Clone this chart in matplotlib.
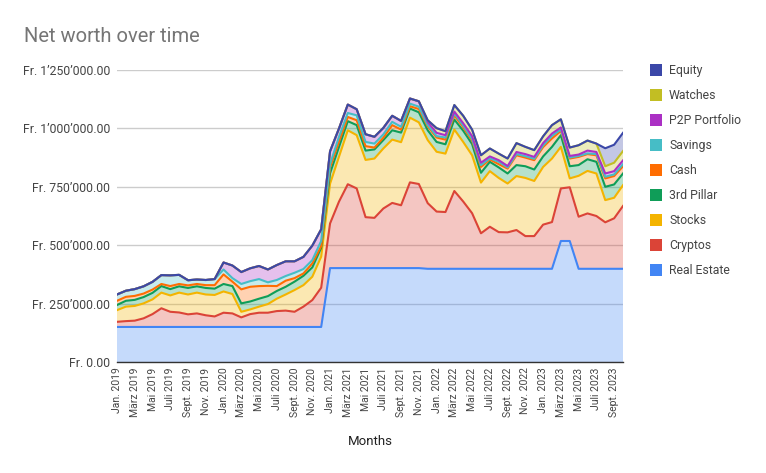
import numpy as np
import matplotlib
matplotlib.use("Agg")
import matplotlib.pyplot as plt
from matplotlib.patches import Rectangle

plt.rcParams['font.family'] = ['Roboto', 'DejaVu Sans']

# ---- data (values in thousand CHF), monthly Jan 2019 .. Okt 2023 ----
real_estate = [150, 150, 150, 150, 150, 150, 150, 150, 150, 150, 150, 150,
               150, 150, 150, 150, 150, 150, 150, 150, 150, 150, 150, 150,
               402, 402, 402, 402, 402, 402, 402, 402, 402, 402, 402, 399,
               399, 399, 399, 399, 399, 399, 399, 399, 399, 399, 399, 399,
               399, 399, 518, 518, 399, 399, 399, 399, 399, 399]
cryptos = [22, 25, 27, 37, 55, 80, 65, 62, 54, 58, 50, 45,
           61, 58, 41, 55, 61, 61, 68, 70, 65, 87, 115, 168,
           191, 284, 359, 341, 218, 215, 255, 279, 269, 367, 360, 281,
           245, 243, 333, 288, 238, 152, 180, 157, 156, 166, 140, 140,
           189, 200, 225, 230, 223, 237, 226, 199, 216, 269]
stocks = [50, 62, 63, 64, 63, 67, 70, 85, 85, 89, 89, 92,
          91, 83, 24, 20, 26, 37, 53, 69, 93, 92, 100, 133,
          170, 192, 231, 228, 245, 254, 257, 271, 270, 277, 264, 270,
          256, 250, 263, 255, 248, 217, 238, 232, 209, 231, 249, 236,
          247, 272, 178, 38, 175, 182, 182, 95, 88, 89]
third_pillar = [22, 25, 26, 27, 28, 28, 27, 27, 28, 27, 28, 27,
                32, 34, 36, 34, 34, 34, 33, 33, 36, 40, 40, 38,
                45, 42, 39, 43, 40, 39, 36, 40, 41, 39, 43, 42,
                42, 40, 43, 48, 48, 42, 40, 45, 43, 47, 50, 49,
                45, 50, 50, 52, 46, 50, 50, 57, 57, 50]
cash = [18, 17, 17, 15, 14, 9, 13, 10, 11, 10, 12, 15,
        41, 19, 60, 63, 54, 44, 21, 26, 15, 10, 17, 7,
        25, 22, 18, 21, 19, 8, 10, 22, 13, 10, 14, 17,
        19, 20, 18, 15, 15, 25, 10, 14, 21, 42, 37, 40,
        40, 36, 18, 33, 35, 22, 28, 36, 36, 31]
savings = [27, 26, 29, 31, 33, 38, 46, 39, 22, 19, 22, 26,
           21, 15, 23, 24, 30, 15, 26, 20, 23, 19, 14, 22,
           14, 21, 17, 21, 18, 17, 14, 14, 12, 11, 10, 6,
           6, 9, 8, 7, 7, 8, 5, 10, 5, 5, 6, 6,
           7, 11, 6, 4, 4, 3, 5, 7, 7, 9]
p2p_portfolio = [0, 0, 0, 0, 0, 0, 0, 0, 0, 0, 0, 0,
                 30, 54, 51, 55, 56, 55, 64, 63, 49, 52, 62, 50,
                 55, 36, 36, 26, 33, 29, 28, 26, 25, 22, 23, 12,
                 14, 10, 8, 10, 12, 10, 8, 7, 6, 9, 9, 8,
                 10, 10, 9, 7, 6, 12, 9, 14, 14, 16]
watches = [0, 0, 0, 0, 0, 0, 0, 0, 0, 0, 0, 0,
           0, 0, 0, 0, 0, 0, 0, 0, 0, 0, 0, 0,
           0, 0, 0, 0, 0, 0, 0, 0, 0, 0, 0, 8,
           20, 17, 28, 32, 28, 32, 34, 28, 32, 38, 31, 29,
           29, 36, 35, 36, 40, 43, 36, 31, 36, 40]
equity = [0, 0, 0, 0, 0, 0, 0, 0, 0, 0, 0, 0,
          0, 0, 0, 0, 0, 0, 0, 0, 0, 0, 0, 0,
          0, 0, 0, 0, 0, 0, 0, 0, 0, 0, 0, 0,
          0, 0, 0, 0, 0, 0, 0, 0, 0, 0, 0, 0,
          0, 0, 0, 0, 0, 0, 0, 77, 77, 78]

series_names = ["Real Estate", "Cryptos", "Stocks", "3rd Pillar", "Cash",
                "Savings", "P2P Portfolio", "Watches", "Equity"]
series_colors = ["#4285F4", "#DB4437", "#F4B400", "#0F9D58", "#FF6D01",
                 "#46BDC6", "#AB30C4", "#C2BE23", "#3B47A8"]

tick_labels = ["Jan. 2019", "März 2019", "Mai 2019", "Juli 2019", "Sept. 2019", "Nov. 2019",
               "Jan. 2020", "März 2020", "Mai 2020", "Juli 2020", "Sept. 2020", "Nov. 2020",
               "Jan. 2021", "März 2021", "Mai 2021", "Juli 2021", "Sept. 2021", "Nov. 2021",
               "Jan. 2022", "März 2022", "Mai 2022", "Juli 2022", "Sept. 2022", "Nov. 2022",
               "Jan. 2023", "März 2023", "Mai 2023", "Juli 2023", "Sept. 2023"]
y_ticks = [0, 250000, 500000, 750000, 1000000, 1250000]
y_tick_labels = ["Fr. 0.00", "Fr. 250\u2019000.00", "Fr. 500\u2019000.00",
                 "Fr. 750\u2019000.00", "Fr. 1\u2019000\u2019000.00", "Fr. 1\u2019250\u2019000.00"]

# ---- figure ----
W, H = 766, 473
fig = plt.figure(figsize=(W / 100, H / 100), dpi=100)
L, R, T, B = 117, 623, 70, 362
ax = fig.add_axes([L / W, 1 - B / H, (R - L) / W, (B - T) / H])

data = np.array([real_estate, cryptos, stocks, third_pillar, cash, savings,
                 p2p_portfolio, watches, equity], dtype=float) * 1000
x = np.arange(data.shape[1])

ax.stackplot(x, *data, colors=series_colors, alpha=0.3, linewidth=0, zorder=2)
cum = np.cumsum(data, axis=0)
for k in range(len(series_names)):
    ax.plot(x, cum[k], color=series_colors[k], lw=1.5, zorder=3,
            solid_joinstyle='round')

ax.set_xlim(0, len(x) - 1)
ax.set_ylim(0, 1250000)
ax.set_yticks(y_ticks)
ax.set_yticklabels(y_tick_labels, fontsize=8.8, color="#444444")
ax.set_xticks(x[::2])
ax.set_xticklabels(tick_labels, rotation=90, fontsize=7.5, color="#444444")
ax.tick_params(axis='both', length=0)
ax.tick_params(axis='y', pad=5)
ax.tick_params(axis='x', pad=4)
ax.grid(axis='y', color="#cccccc", lw=1, zorder=0)
ax.set_axisbelow(True)
for s in ['top', 'right', 'left']:
    ax.spines[s].set_visible(False)
ax.spines['bottom'].set_color('#333333')
ax.spines['bottom'].set_linewidth(1)
ax.spines['bottom'].set_zorder(4)

fig.text(24 / W, 1 - 37 / H, "Net worth over time", fontsize=14.5, color="#757575",
         ha='left', va='center')
fig.text(370 / W, 1 - 441 / H, "Months", fontsize=9.5, color="#222222",
         ha='center', va='center')

# legend (top: Equity ... bottom: Real Estate)
y0, dy = 70.5, 24.95
for j, k in enumerate(range(len(series_names) - 1, -1, -1)):
    yc = y0 + j * dy
    fig.add_artist(Rectangle((649.5 / W, 1 - (yc + 6) / H), 12 / W, 12 / H,
                             transform=fig.transFigure, facecolor=series_colors[k],
                             edgecolor='none'))
    fig.text(669 / W, 1 - yc / H, series_names[k], fontsize=8.8, color="#444444",
             ha='left', va='center')

fig.savefig("out.png", dpi=100)
